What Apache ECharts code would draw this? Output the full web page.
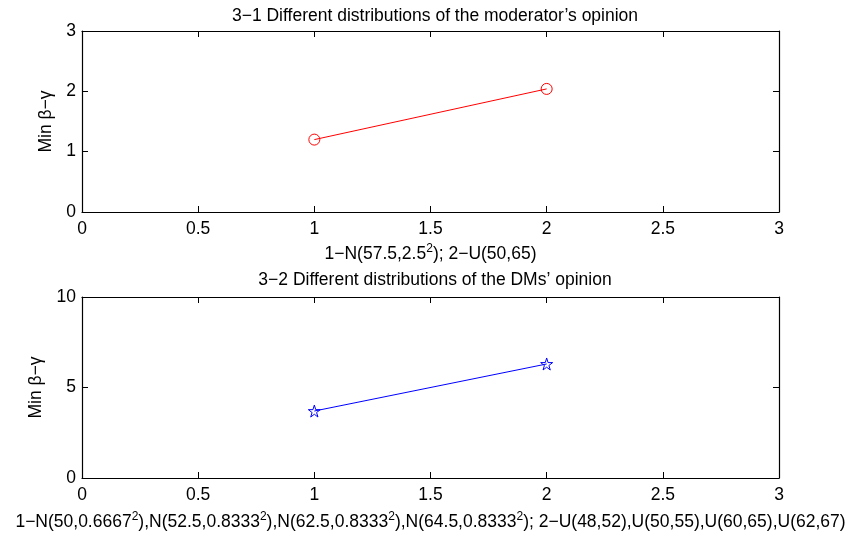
<!DOCTYPE html>
<html>
<head>
<meta charset="utf-8">
<script src="https://cdn.jsdelivr.net/npm/echarts@6/dist/echarts.min.js"></script>
<style>
  html, body { margin: 0; padding: 0; background: #fff; }
  #chart { width: 863px; height: 540px; }
</style>
</head>
<body>
<div id="chart"></div>
<script>
// data
const xTop = [1, 2];
const yTop = [1.2, 2.04];
const xBottom = [1, 2];
const yBottom = [3.7, 6.3];

const titleTop = '3\u22121 Different distributions of the moderator\u2019s opinion';
const titleBottom = '3\u22122 Different distributions of the DMs\u2019 opinion';
const xNameTop = '1\u2212N(57.5,2.5{sup|2}); 2\u2212U(50,65)';
const xNameBottom = '1\u2212N(50,0.6667{sup|2}),N(52.5,0.8333{sup|2}),N(62.5,0.8333{sup|2}),N(64.5,0.8333{sup|2}); 2\u2212U(48,52),U(50,55),U(60,65),U(62,67)';
const yName = 'Min \u03b2\u2212\u03b3';

const FONT = 'Liberation Sans, Arial, Helvetica, sans-serif';
const FS = 17.5;
const starPath = 'path://M50,0 L61,35 L98,35 L68,57 L79,91 L50,70 L21,91 L32,57 L2,35 L39,35 Z';

const chart = echarts.init(document.getElementById('chart'));

const tickStyle = { show: true, inside: true, length: 6, lineStyle: { color: '#000', width: 1 } };
const lineStyle = { show: true, onZero: false, lineStyle: { color: '#000', width: 1.2 } };
const labelStyle = { color: '#000', fontSize: FS, fontFamily: FONT };
const richSup = { sup: { fontSize: 12, verticalAlign: 'top', padding: [0, 0, 11, 0], color: '#000', fontFamily: FONT } };

function xAxisMain(gridIndex, name, gap) {
  return {
    gridIndex: gridIndex, type: 'value', min: 0, max: 3, interval: 0.5, position: 'bottom',
    axisLine: lineStyle, axisTick: tickStyle, splitLine: { show: false },
    axisLabel: Object.assign({ margin: 8 }, labelStyle),
    name: name, nameLocation: 'middle', nameGap: gap,
    nameTextStyle: { color: '#000', fontSize: FS, fontFamily: FONT, rich: richSup }
  };
}
function xAxisBox(gridIndex) {
  return {
    gridIndex: gridIndex, type: 'value', min: 0, max: 3, interval: 0.5, position: 'top',
    axisLine: lineStyle, axisTick: tickStyle, axisLabel: { show: false }, splitLine: { show: false }
  };
}
function yAxisMain(gridIndex, max, interval, gap) {
  return {
    gridIndex: gridIndex, type: 'value', min: 0, max: max, interval: interval, position: 'left',
    axisLine: lineStyle, axisTick: tickStyle, splitLine: { show: false },
    axisLabel: Object.assign({ margin: 6 }, labelStyle),
    name: yName, nameLocation: 'middle', nameGap: gap,
    nameTextStyle: { color: '#000', fontSize: FS, fontFamily: FONT }
  };
}
function yAxisBox(gridIndex, max, interval) {
  return {
    gridIndex: gridIndex, type: 'value', min: 0, max: max, interval: interval, position: 'right',
    axisLine: lineStyle, axisTick: tickStyle, axisLabel: { show: false }, splitLine: { show: false }
  };
}

chart.setOption({
  backgroundColor: '#fff',
  animation: false,
  title: [
    { text: titleTop, left: 430, top: 2, textAlign: 'center',
      textStyle: { fontSize: FS, fontWeight: 'normal', color: '#000', fontFamily: FONT } },
    { text: titleBottom, left: 430, top: 266, textAlign: 'center',
      textStyle: { fontSize: FS, fontWeight: 'normal', color: '#000', fontFamily: FONT } }
  ],
  grid: [
    { left: 82, right: 84, top: 31, height: 181 },
    { left: 82, right: 84, top: 297, height: 181 }
  ],
  xAxis: [
    xAxisMain(0, xNameTop, 31),
    xAxisBox(0),
    xAxisMain(1, xNameBottom, 33),
    xAxisBox(1)
  ],
  yAxis: [
    yAxisMain(0, 3, 1, 27),
    yAxisBox(0, 3, 1),
    yAxisMain(1, 10, 5, 31),
    yAxisBox(1, 10, 5)
  ],
  series: [
    {
      type: 'line', xAxisIndex: 0, yAxisIndex: 0,
      data: xTop.map((x, i) => [x, yTop[i]]),
      symbol: 'circle', symbolSize: 11,
      lineStyle: { color: '#ff0000', width: 1 },
      itemStyle: { color: 'rgba(255,255,255,0)', borderColor: '#ff0000', borderWidth: 1 }
    },
    {
      type: 'line', xAxisIndex: 2, yAxisIndex: 2,
      data: xBottom.map((x, i) => [x, yBottom[i]]),
      symbol: starPath, symbolSize: 12,
      lineStyle: { color: '#0000ff', width: 1 },
      itemStyle: { color: 'rgba(255,255,255,0)', borderColor: '#0000ff', borderWidth: 1 }
    }
  ]
});
</script>
</body>
</html>
